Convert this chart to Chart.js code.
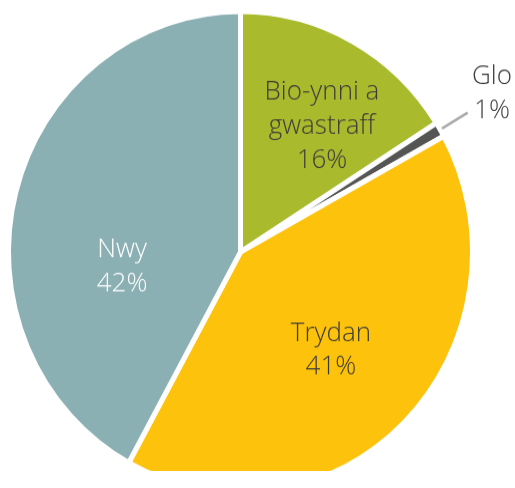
<!DOCTYPE html>
<html>
<head>
<meta charset="utf-8">
<script src="https://cdn.jsdelivr.net/npm/chart.js@4/dist/chart.umd.min.js"></script>
<style>
  html, body { margin: 0; padding: 0; background: #fff; overflow: hidden; }
  /* the source pie is a touch taller than wide */
  #wrap { width: 515px; height: 471px; transform: scaleY(1.037); transform-origin: 0 0; }
</style>
</head>
<body>
<div id="wrap"><canvas id="pie" width="515" height="471"></canvas></div>
<script>
// Energy use by fuel (Welsh labels), clockwise from 12 o'clock
const categories = [['Bio-ynni a', 'gwastraff'], ['Glo'], ['Trydan'], ['Nwy']];
const shares = [16, 1, 41, 42];
const colours = ['#a9ba2c', '#555554', '#fdc20c', '#8bb0b4'];
const textColours = ['#3c3c3b', '#3c3c3b', '#3c3c3b', '#ffffff'];

// label block centre as a fraction of the radius from the pie centre
const labelAnchors = [[0.355, -0.53], [1.096, -0.668], [0.394, 0.412], [-0.516, 0.063]];
const calloutSlices = [1]; // slices labelled outside with a leader line

const pieLabels = {
    id: 'pieLabels',
    afterDatasetsDraw(chart) {
        const ctx = chart.ctx;
        const arcs = chart.getDatasetMeta(0).data;
        ctx.save();
        ctx.font = '300 26px "Open Sans", "Noto Sans", sans-serif';
        ctx.textAlign = 'center';
        ctx.textBaseline = 'middle';
        arcs.forEach(function (arc, i) {
            const R = arc.outerRadius - 2.5;
            if (calloutSlices.indexOf(i) > -1) {
                const mid = (arc.startAngle + arc.endAngle) / 2;
                ctx.strokeStyle = '#aaaaaa';
                ctx.lineWidth = 2.5;
                ctx.beginPath();
                ctx.moveTo(arc.x + Math.cos(mid) * R * 1.02, arc.y + Math.sin(mid) * R * 1.02);
                ctx.lineTo(arc.x + Math.cos(mid) * R * 1.15, arc.y + Math.sin(mid) * R * 1.15);
                ctx.stroke();
            }
            const lines = categories[i].concat([shares[i] + '%']);
            const cx = arc.x + labelAnchors[i][0] * R;
            const cy = arc.y + labelAnchors[i][1] * R;
            const lh = 32.8;
            ctx.fillStyle = textColours[i];
            lines.forEach(function (t, k) {
                ctx.fillText(t, cx, cy + (k - (lines.length - 1) / 2) * lh);
            });
        });
        ctx.restore();
    }
};

new Chart(document.getElementById('pie').getContext('2d'), {
    type: 'pie',
    data: {
        labels: categories.map(function (c) { return c.join(' '); }),
        datasets: [{
            data: shares,
            backgroundColor: colours,
            borderColor: '#ffffff',
            borderWidth: 5
        }]
    },
    options: {
        responsive: false,
        animation: false,
        events: [],
        radius: 232,
        layout: { padding: { top: 15, bottom: 0, left: 0, right: 34 } },
        plugins: { legend: { display: false }, tooltip: { enabled: false } }
    },
    plugins: [pieLabels]
});
</script>
</body>
</html>
